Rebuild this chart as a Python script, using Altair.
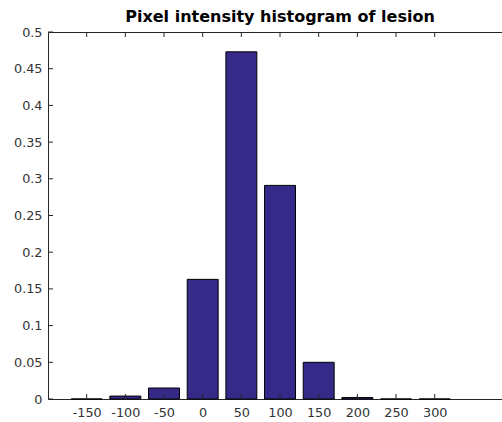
import altair as alt
import pandas as pd

# data
centers = [-150, -100, -50, 0, 50, 100, 150, 200, 250, 300]
values = [0.0, 0.004, 0.015, 0.163, 0.473, 0.291, 0.050, 0.002, 0.0, 0.0]
x_ticks = [-150, -100, -50, 0, 50, 100, 150, 200, 250, 300]
y_ticks = [0, 0.05, 0.1, 0.15, 0.2, 0.25, 0.3, 0.35, 0.4, 0.45, 0.5]
title_text = "Pixel intensity histogram of lesion"
bar_width_units = 40

W, H = 454, 367
AX = "#262626"
LBL = "#333333"
FONT = "DejaVu Sans"

df = pd.DataFrame({"center": centers, "value": values})
xt = pd.DataFrame({"t": x_ticks})
yt = pd.DataFrame({"v": y_ticks})

xscale = alt.Scale(domain=[-200, 387], nice=False, zero=False)
yscale = alt.Scale(domain=[0, 0.5], nice=False)

bars = alt.Chart(df).transform_calculate(
    lo=f"datum.center - {bar_width_units/2}",
    hi=f"datum.center + {bar_width_units/2}",
).mark_bar(color="#352A87", stroke="black", strokeWidth=1).encode(
    x=alt.X("lo:Q", scale=xscale, title=None,
            axis=alt.Axis(values=x_ticks, orient="bottom", ticks=False, tickSize=0,
                          labelExpr="'' + datum.value",
                          labelPadding=7, labelFontSize=12.8, labelFont=FONT,
                          labelColor=LBL, domainColor=AX, grid=False, labelFlush=False)),
    x2="hi:Q",
    y=alt.Y("value:Q", scale=yscale, title=None,
            axis=alt.Axis(values=y_ticks, format=".2~f", ticks=False, tickSize=0,
                          labelPadding=6, labelFontSize=12.8, labelFont=FONT,
                          labelColor=LBL, domainColor=AX, grid=False, labelFlush=False)),
    y2=alt.datum(0),
)

top_ticks = alt.Chart(xt).mark_rule(color=AX, strokeWidth=1).encode(
    x=alt.X("t:Q", scale=xscale, title=None,
            axis=alt.Axis(orient="top", labels=False, ticks=False, tickSize=0,
                          domainColor=AX, grid=False, values=x_ticks)),
    y=alt.value(0), y2=alt.value(5),
)

bottom_ticks = alt.Chart(xt).mark_rule(color=AX, strokeWidth=1).encode(
    x=alt.X("t:Q", scale=xscale, axis=None),
    y=alt.value(H), y2=alt.value(H - 5),
)

left_ticks = alt.Chart(yt).mark_rule(color=AX, strokeWidth=1).encode(
    y=alt.Y("v:Q", scale=yscale, axis=None),
    x=alt.value(0), x2=alt.value(5),
)

chart = alt.layer(bars, bottom_ticks, top_ticks, left_ticks).resolve_axis(
    x="independent", y="independent"
).properties(
    width=W, height=H,
    title=alt.TitleParams(title_text, font=FONT, fontSize=16, fontWeight="bold",
                          color="black", anchor="middle", dx=5, offset=1),
    autosize=alt.AutoSizeParams(type="none"),
    padding={"left": 48, "top": 32, "right": 0, "bottom": 23},
).configure_view(stroke=None).configure(background="white")

chart.save("out.html", embed_options={"renderer": "svg", "actions": False})
